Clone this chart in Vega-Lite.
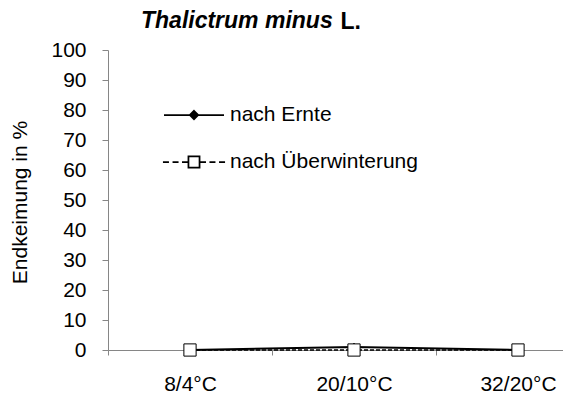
{
  "$schema": "https://vega.github.io/schema/vega-lite/v6.json",
  "autosize": {"type": "none"},
  "width": 455,
  "height": 300,
  "padding": {"left": 108, "top": 50, "right": 0, "bottom": 45},
  "background": "white",
  "title": {
    "text": "Thalictrum minus",
    "anchor": "start",
    "frame": "group",
    "dx": 33,
    "offset": -41,
    "baseline": "alphabetic",
    "font": "Liberation Sans",
    "fontSize": 23,
    "fontWeight": "bold",
    "fontStyle": "italic",
    "color": "black"
  },
  "config": {
    "view": {"stroke": null},
    "axis": {
      "domainColor": "#868686",
      "tickColor": "#868686",
      "grid": false,
      "labelFont": "Liberation Sans",
      "labelFontSize": 21,
      "labelColor": "black",
      "titleFont": "Liberation Sans",
      "titleFontSize": 21,
      "titleColor": "black",
      "titleFontWeight": "normal"
    }
  },
  "data": {
    "values": [
      {"temp": "8/4°C", "serie": "nach Ernte", "wert": 0},
      {"temp": "20/10°C", "serie": "nach Ernte", "wert": 1},
      {"temp": "32/20°C", "serie": "nach Ernte", "wert": 0},
      {"temp": "8/4°C", "serie": "nach Überwinterung", "wert": 0},
      {"temp": "20/10°C", "serie": "nach Überwinterung", "wert": 0},
      {"temp": "32/20°C", "serie": "nach Überwinterung", "wert": 0}
    ]
  },
  "encoding": {
    "x": {
      "field": "temp",
      "type": "nominal",
      "sort": ["8/4°C", "20/10°C", "32/20°C"],
      "scale": {"type": "band", "range": [0, 492], "paddingInner": 0, "paddingOuter": 0},
      "axis": {
        "labelAngle": 0,
        "tickBand": "extent",
        "tickSize": 5,
        "labelPadding": 18,
        "title": "L.",
        "titleX": 232,
        "titleY": -322,
        "titleAlign": "left",
        "titleBaseline": "alphabetic",
        "titleAngle": 0,
        "titleFontSize": 23,
        "titleFontWeight": "bold",
        "titleFontStyle": "normal"
      }
    },
    "y": {
      "field": "wert",
      "type": "quantitative",
      "scale": {"domain": [0, 100], "nice": false},
      "axis": {
        "values": [0, 10, 20, 30, 40, 50, 60, 70, 80, 90, 100],
        "tickSize": 6,
        "labelPadding": 16,
        "title": "Endkeimung in %",
        "titleX": -88,
        "titleY": 152,
        "titleAngle": 270,
        "titleAlign": "center",
        "titleBaseline": "middle"
      }
    }
  },
  "layer": [
    {
      "transform": [{"filter": "datum.serie === 'nach Ernte'"}],
      "mark": {"type": "line", "color": "black", "strokeWidth": 2}
    },
    {
      "transform": [{"filter": "datum.serie === 'nach Überwinterung'"}],
      "mark": {"type": "line", "color": "black", "strokeWidth": 1.5, "strokeDash": [4, 2]}
    },
    {
      "transform": [{"filter": "datum.serie === 'nach Ernte'"}],
      "mark": {"type": "point", "shape": "diamond", "filled": true, "fill": "black", "stroke": "black", "strokeWidth": 1, "size": 60, "opacity": 1}
    },
    {
      "transform": [{"filter": "datum.serie === 'nach Überwinterung'"}],
      "mark": {"type": "point", "shape": "square", "filled": true, "fill": "white", "stroke": "black", "strokeWidth": 1, "size": 150, "opacity": 1}
    },
    {
      "transform": [{"filter": "datum.wert > 1000"}],
      "mark": {"type": "point", "filled": false, "color": "black", "stroke": "black", "strokeWidth": 1.75, "opacity": 1},
      "encoding": {
        "shape": {
          "field": "serie",
          "type": "nominal",
          "scale": {
            "domain": ["nach Ernte", "nach Überwinterung"],
            "range": [
              "M-2,0L2,0M0,-0.28L0.28,0L0,0.28L-0.28,0ZM0,-0.18L0.18,0L0,0.18L-0.18,0ZM0,-0.08L0.08,0L0,0.08L-0.08,0Z",
              "M-2.07,0L-1.67,0M-1.43,0L-1.03,0M-0.8,0L-0.4,0M0.4,0L0.8,0M1.03,0L1.43,0M1.67,0L2.07,0M-0.37,-0.37L0.37,-0.37L0.37,0.37L-0.37,0.37Z"
            ]
          },
          "legend": {
            "orient": "none",
            "legendX": 70,
            "legendY": 49,
            "title": null,
            "padding": 0,
            "symbolSize": 900,
            "symbolOffset": 0,
            "symbolOpacity": 1,
            "symbolStrokeColor": "black",
            "symbolStrokeWidth": 1.75,
            "labelOffset": 20,
            "rowPadding": 21,
            "labelFont": "Liberation Sans",
            "labelFontSize": 21,
            "labelColor": "black",
            "labelLimit": 0,
            "encode": {
              "symbols": {
                "stroke": {"value": "black"},
                "strokeWidth": {"value": 1.75},
                "opacity": {"value": 1},
                "size": {"value": 900}
              }
            }
          }
        }
      }
    }
  ]
}
